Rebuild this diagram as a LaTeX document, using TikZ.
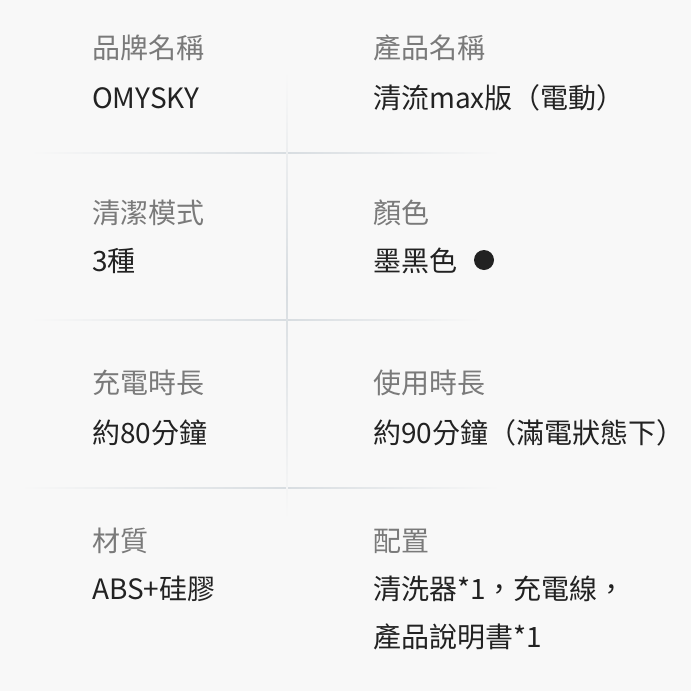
\documentclass[tikz,border=0pt]{standalone}
\usepackage{fontspec}
\setmainfont{Noto Sans CJK TC}
\begin{document}
\definecolor{bg}{HTML}{F8F8F8}
\definecolor{ln}{HTML}{D8DDE1}
\definecolor{lab}{HTML}{7A7A7A}
\definecolor{val}{HTML}{222222}
\begin{tikzpicture}[x=1pt,y=-1pt,
  lbl/.style={anchor=west,text=lab,font=\fontsize{28}{32}\selectfont,inner sep=0pt},
  vl/.style={anchor=west,text=val,font=\fontsize{28}{32}\selectfont,inner sep=0pt}]
\fill[bg] (0,0) rectangle (691,691);
\useasboundingbox (0,0) rectangle (691,691);
\foreach \y/\a/\b in {153/30/500,320/30/480,488/20/500}{
  \shade[left color=bg,right color=ln] (\a,\y-0.8) rectangle (287,\y+0.8);
  \shade[left color=ln,right color=bg] (287,\y-0.8) rectangle (\b,\y+0.8);
}
\shade[top color=bg,bottom color=ln] (286.2,70) rectangle (287.8,290);
\shade[top color=ln,bottom color=bg] (286.2,290) rectangle (287.8,520);
\node[lbl] (l1) at (92,48) {品牌名稱};
\node[vl] (v1) at (92,98) {OMYSKY};
\node[lbl] (l2) at (373,48) {產品名稱};
\node[vl] (v2) at (373,98) {清流max版（電動）};
\node[lbl] (l3) at (92,213) {清潔模式};
\node[vl] (v3) at (92,261) {3種};
\node[lbl] (l4) at (373,213) {顏色};
\node[vl] (v4) at (373,261) {墨黑色};
\fill[val] (484,260) circle (10);
\node[lbl] (l5) at (92,383) {充電時長};
\node[vl] (v5) at (92,433) {約80分鐘};
\node[lbl] (l6) at (373,383) {使用時長};
\node[vl] (v6) at (373,433) {約90分鐘（滿電狀態下）};
\node[lbl] (l7) at (92,541) {材質};
\node[vl] (v7) at (92,589) {ABS+硅膠};
\node[lbl] (l8) at (373,541) {配置};
\node[vl] (v8) at (373,589) {清洗器*1，充電線，};
\node[vl] (v9) at (373,637) {產品說明書*1};
\end{tikzpicture}
\end{document}
